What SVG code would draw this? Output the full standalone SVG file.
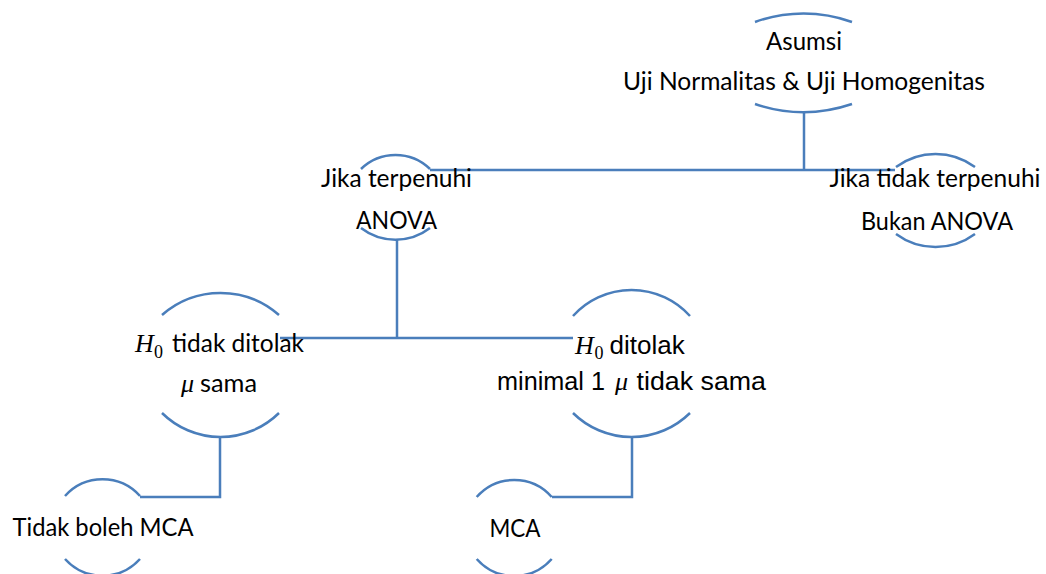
<svg xmlns="http://www.w3.org/2000/svg" width="1046" height="574" viewBox="0 0 1046 574">
  <style>
    .arc{fill:none;stroke:#4a7ebb;stroke-width:2.5}
    .conn{fill:none;stroke:#4a7ebb;stroke-width:2.5}
    .c{font-family:Lato,"Open Sans",sans-serif;font-size:24.5px;fill:#000}
    .a{font-family:"Liberation Sans",Arial,sans-serif;font-size:26px;fill:#000}
    .m{font-family:"Liberation Serif","DejaVu Serif",serif;font-style:italic;font-size:26px;fill:#000}
    .s{font-family:"Liberation Serif","DejaVu Serif",serif;font-size:18px;fill:#000}
  </style>
  <rect width="1046" height="574" fill="#ffffff"/>
  <g id="connectors">
    <path class="conn" d="M804 112 V170"/>
    <path class="conn" d="M430 170 H895"/>
    <path class="conn" d="M397 239 V338"/>
    <path class="conn" d="M280 338 H573"/>
    <path class="conn" d="M220 437 V497 H140"/>
    <path class="conn" d="M632 437 V497 H552"/>
  </g>
  <g id="asumsi">
    <path class="arc" d="M755 22 A142.6 142.6 0 0 1 852 22"/>
    <path class="arc" d="M755 104 A151 151 0 0 0 852 104"/>
    <text class="c" x="766" y="50" textLength="76" lengthAdjust="spacingAndGlyphs">Asumsi</text>
    <text class="c" x="623" y="90" textLength="362" lengthAdjust="spacingAndGlyphs">Uji Normalitas &amp; Uji Homogenitas</text>
  </g>
  <g id="anova">
    <path class="arc" d="M361 169 A49.5 49.5 0 0 1 430 169"/>
    <path class="arc" d="M361 228 A56.7 56.7 0 0 0 430 228"/>
    <text class="c" x="321" y="187" textLength="151" lengthAdjust="spacingAndGlyphs">Jika terpenuhi</text>
    <text class="c" x="356" y="229" textLength="81" lengthAdjust="spacingAndGlyphs">ANOVA</text>
  </g>
  <g id="bukan-anova">
    <path class="arc" d="M896 167 A66.5 66.5 0 0 1 975 167"/>
    <path class="arc" d="M896 234 A66.5 66.5 0 0 0 975 234"/>
    <text class="c" x="829.5" y="187" textLength="211" lengthAdjust="spacingAndGlyphs">Jika tidak terpenuhi</text>
    <text class="c" x="861" y="230" textLength="152" lengthAdjust="spacingAndGlyphs">Bukan ANOVA</text>
  </g>
  <g id="h0-tidak-ditolak">
    <path class="arc" d="M162 315 A88.8 88.8 0 0 1 279 315"/>
    <path class="arc" d="M162 413 A83.3 83.3 0 0 0 279 413"/>
    <text class="m" x="135" y="352">H</text>
    <text class="s" x="154" y="357.5">0</text>
    <text class="c" x="172" y="352" textLength="132" lengthAdjust="spacingAndGlyphs">tidak ditolak</text>
    <text class="m" x="181" y="392">μ</text>
    <text class="c" x="200" y="392" textLength="57" lengthAdjust="spacingAndGlyphs">sama</text>
  </g>
  <g id="h0-ditolak">
    <path class="arc" d="M573 316 A78.8 78.8 0 0 1 690 316"/>
    <path class="arc" d="M573 413 A83.3 83.3 0 0 0 690 413"/>
    <text class="m" x="575" y="353.5">H</text>
    <text class="s" x="594.5" y="359">0</text>
    <text class="a" x="609.5" y="354">ditolak</text>
    <text class="a" x="497" y="390" textLength="108" lengthAdjust="spacingAndGlyphs">minimal 1</text>
    <text class="m" x="615" y="390">μ</text>
    <text class="a" x="636.5" y="390" textLength="129.5" lengthAdjust="spacingAndGlyphs">tidak sama</text>
  </g>
  <g id="tidak-boleh-mca">
    <path class="arc" d="M65 496 A50.4 50.4 0 0 1 140 496"/>
    <path class="arc" d="M65 559 A50.4 50.4 0 0 0 140 559"/>
    <text class="c" x="12.5" y="536" textLength="181" lengthAdjust="spacingAndGlyphs">Tidak boleh MCA</text>
  </g>
  <g id="mca">
    <path class="arc" d="M476.7 497 A49.9 49.9 0 0 1 551.7 497"/>
    <path class="arc" d="M476.7 559 A49.9 49.9 0 0 0 551.7 559"/>
    <text class="c" x="489.5" y="536.5" textLength="51" lengthAdjust="spacingAndGlyphs">MCA</text>
  </g>
</svg>
